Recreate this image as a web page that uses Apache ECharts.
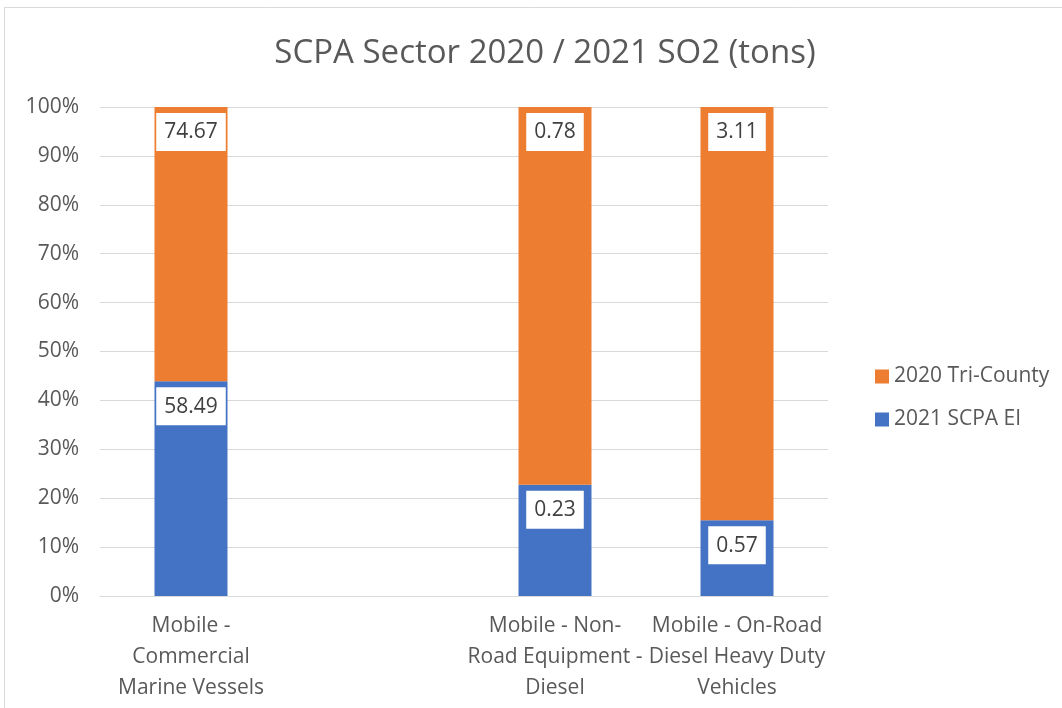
<!DOCTYPE html>
<html>
<head>
<meta charset="utf-8">
<script src="https://cdn.jsdelivr.net/npm/echarts@6/dist/echarts.min.js"></script>
<style>
  html, body { margin: 0; padding: 0; background: #fff; }
  #chart { width: 1062px; height: 708px; }
</style>
</head>
<body>
<div id="chart"></div>
<script>
// Sector categories (the blank one is an empty slot between sectors)
const categories = [
  'Mobile -\nCommercial\nMarine Vessels',
  '',
  'Mobile - Non-\nRoad Equipment -\nDiesel',
  'Mobile - On-Road\nDiesel Heavy Duty\nVehicles'
];
// SO2 emissions in tons
const scpa2021 = [58.49, null, 0.23, 0.57];
const triCounty2020 = [74.67, null, 0.78, 3.11];
const yTicks = [0, 10, 20, 30, 40, 50, 60, 70, 80, 90, 100];

const TEXT = '#595959';
const FONT = '"Open Sans", Lato, sans-serif';

// 100% stacked: each segment is its share of the category total
function share(v, i) {
  if (v == null) return null;
  const total = scpa2021[i] + triCounty2020[i];
  return { value: v / total * 100, raw: v };
}

const labelStyle = {
  show: true,
  position: 'insideTop',
  distance: 6,
  formatter: p => p.data && p.data.raw != null ? p.data.raw.toFixed(2) : '',
  backgroundColor: '#ffffff',
  color: '#404040',
  fontFamily: FONT,
  fontSize: 21,
  padding: [9, 8, 8, 8]
};

const chart = echarts.init(document.getElementById('chart'));
chart.setOption({
  animation: false,
  title: {
    text: 'SCPA Sector 2020 / 2021 SO2 (tons)',
    left: 540,
    textAlign: 'center',
    top: 32,
    textStyle: { color: TEXT, fontFamily: FONT, fontSize: 33, fontWeight: 'normal' }
  },
  legend: {
    orient: 'vertical',
    left: 870,
    top: 361,
    itemWidth: 14,
    itemHeight: 14,
    itemGap: 22,
    icon: 'rect',
    data: ['2020 Tri-County', '2021 SCPA EI'],
    textStyle: { color: TEXT, fontFamily: FONT, fontSize: 21 }
  },
  grid: { left: 100, right: 234, top: 107, bottom: 112, containLabel: false },
  xAxis: {
    type: 'category',
    data: categories,
    axisLine: { lineStyle: { color: '#d9d9d9', width: 1 } },
    axisTick: { show: false },
    axisLabel: {
      interval: 0,
      color: TEXT,
      fontFamily: FONT,
      fontSize: 21,
      lineHeight: 31,
      margin: 15
    }
  },
  yAxis: {
    type: 'value',
    min: yTicks[0],
    max: yTicks[yTicks.length - 1],
    interval: 10,
    axisLine: { show: false },
    axisTick: { show: false },
    splitLine: { lineStyle: { color: '#d9d9d9', width: 1 } },
    axisLabel: {
      color: TEXT,
      fontFamily: FONT,
      fontSize: 21,
      margin: 21,
      formatter: v => v + '%'
    }
  },
  series: [
    {
      name: '2021 SCPA EI',
      type: 'bar',
      stack: 'total',
      barWidth: 73,
      itemStyle: { color: '#4472C4' },
      label: labelStyle,
      data: scpa2021.map(share)
    },
    {
      name: '2020 Tri-County',
      type: 'bar',
      stack: 'total',
      barWidth: 73,
      itemStyle: { color: '#ED7D31' },
      label: labelStyle,
      data: triCounty2020.map(share)
    }
  ],
  graphic: [{
    type: 'rect',
    silent: true,
    shape: { x: 4.5, y: 7.5, width: 1080, height: 720 },
    style: { fill: 'none', stroke: '#d9d9d9', lineWidth: 1 }
  }]
});
</script>
</body>
</html>
